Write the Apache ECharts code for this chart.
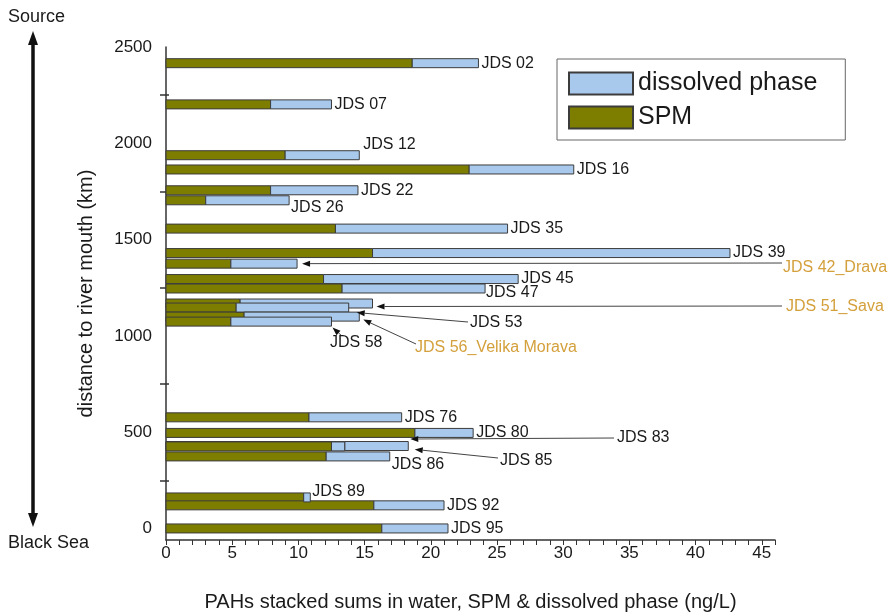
<!DOCTYPE html>
<html>
<head>
<meta charset="utf-8">
<title>PAHs along the Danube</title>
<script src="https://cdn.jsdelivr.net/npm/echarts@6/dist/echarts.min.js"></script>
<style>
  html, body { margin: 0; padding: 0; background: #ffffff; }
  #chart { width: 894px; height: 612px; }
</style>
</head>
<body>
<div id="chart"></div>
<script>
// Sampling stations, ordered from the source down to the Black Sea
const stations = [
  'JDS 02', 'JDS 07', 'JDS 12', 'JDS 16', 'JDS 22', 'JDS 26', 'JDS 35', 'JDS 39',
  'JDS 42_Drava', 'JDS 45', 'JDS 47', 'JDS 51_Sava', 'JDS 53', 'JDS 56_Velika Morava',
  'JDS 58', 'JDS 76', 'JDS 80', 'JDS 83', 'JDS 85', 'JDS 86', 'JDS 89', 'JDS 92', 'JDS 95'
];
// Distance to the river mouth (km)
const distanceKm = [
  2416, 2202, 1938, 1864, 1756, 1704, 1557, 1430,
  1375, 1295, 1246, 1168, 1147, 1100,
  1074, 577, 496, 428, 426, 374, 161, 120, 0
];
// PAHs bound to suspended particulate matter (ng/L)
const spm = [
  18.6, 7.9, 9.0, 22.9, 7.9, 3.0, 12.8, 15.6,
  4.9, 11.9, 13.3, 5.6, 5.3, 5.9,
  4.9, 10.8, 18.8, 13.5, 12.5, 12.1, 10.4, 15.7, 16.3
];
// PAHs in the dissolved phase (ng/L)
const dissolved = [
  5.0, 4.6, 5.6, 7.9, 6.6, 6.3, 13.0, 27.0,
  5.0, 14.7, 10.8, 10.0, 8.5, 8.7,
  7.6, 7.0, 4.4, 4.8, 1.0, 4.8, 0.5, 5.3, 5.0
];
const xTickLabels = [0, 5, 10, 15, 20, 25, 30, 35, 40, 45];
const yTickLabels = [0, 500, 1000, 1500, 2000, 2500];
const yMidTicks = [250, 750, 1250, 1750, 2250];

const FONT = '"Liberation Sans", Arial, Helvetica, sans-serif';
const TEXT = '#1a1a1a';
const TRIBUTARY = '#d4a03c';
const SPM_COLOR = '#7d7d00';
const DISS_COLOR = '#a8c8ec';
const EDGE = '#3c3c3c';
const BAR_H = 9;

// Station labels drawn next to the bar end (pixel nudges)
const labelNudge = {
  'JDS 12': [4, -11],
  'JDS 26': [2, 7],
  'JDS 47': [1, 4],
  'JDS 86': [2, 8],
  'JDS 89': [2, -6]
};
// Station labels placed away from the bars, with a leader arrow
const callouts = {
  'JDS 42_Drava':         { text: [783, 268], from: [782, 263], tip: [5, 0],  color: TRIBUTARY },
  'JDS 51_Sava':          { text: [786, 307], from: [782, 306], tip: [4, 3],  color: TRIBUTARY },
  'JDS 53':               { text: [470, 323], from: [468, 322], tip: [8, 5] },
  'JDS 56_Velika Morava': { text: [415, 348], from: [416, 344], tip: [4, 3],  color: TRIBUTARY },
  'JDS 58':               { text: [330, 343], from: [342, 336], tip: [1, 6] },
  'JDS 83':               { text: [617, 438], from: [614, 438], tip: [2, -7] },
  'JDS 85':               { text: [500, 461], from: [498, 458], tip: [70, 3] }
};

const spmData = stations.map((s, i) => [0, spm[i], distanceKm[i]]);
const dissData = stations.map((s, i) => [spm[i], +(spm[i] + dissolved[i]).toFixed(2), distanceKm[i]]);
const plainLabelData = [];
const calloutData = [];
stations.forEach((s, i) => {
  const row = [spm[i] + dissolved[i], distanceKm[i], i];
  (callouts[s] ? calloutData : plainLabelData).push(row);
});

function segment(color) {
  return function (params, api) {
    const a = api.coord([api.value(0), api.value(2)]);
    const b = api.coord([api.value(1), api.value(2)]);
    return {
      type: 'rect',
      shape: { x: a[0], y: a[1] - BAR_H / 2, width: b[0] - a[0], height: BAR_H },
      style: { fill: color, stroke: EDGE, lineWidth: 1 }
    };
  };
}

function plainLabel(params, api) {
  const name = stations[api.value(2)];
  const end = api.coord([api.value(0), api.value(1)]);
  const n = labelNudge[name] || [3, 0];
  return {
    type: 'text',
    x: end[0] + n[0],
    y: end[1] + n[1],
    style: {
      text: name, fill: TEXT, fontSize: 16, fontFamily: FONT,
      align: 'left', verticalAlign: 'middle'
    }
  };
}

function calloutLabel(params, api) {
  const name = stations[api.value(2)];
  const c = callouts[name];
  const end = api.coord([api.value(0), api.value(1)]);
  const tip = [end[0] + c.tip[0], end[1] + c.tip[1]];
  const dx = tip[0] - c.from[0], dy = tip[1] - c.from[1];
  const len = Math.hypot(dx, dy) || 1;
  const ux = dx / len, uy = dy / len;
  const hl = 8, hw = 3;
  const bx = tip[0] - ux * hl, by = tip[1] - uy * hl;
  return {
    type: 'group',
    children: [
      { type: 'line', shape: { x1: c.from[0], y1: c.from[1], x2: bx, y2: by },
        style: { stroke: '#444', lineWidth: 1 } },
      { type: 'polygon',
        shape: { points: [tip, [bx - uy * hw, by + ux * hw], [bx + uy * hw, by - ux * hw]] },
        style: { fill: '#111' } },
      { type: 'text', x: c.text[0], y: c.text[1],
        style: { text: name, fill: c.color || TEXT, fontSize: 16, fontFamily: FONT,
                 align: 'left', verticalAlign: 'middle' } }
    ]
  };
}

const chart = echarts.init(document.getElementById('chart'), null, { renderer: 'canvas' });

chart.setOption({
  animation: false,
  backgroundColor: '#ffffff',
  textStyle: { fontFamily: FONT, color: TEXT },
  grid: { left: 166, right: 119, top: 47, bottom: 72, containLabel: false, outerBoundsMode: 'none' },
  legend: {
    orient: 'vertical',
    left: 557, top: 59,
    padding: [12, 28, 10, 11],
    itemWidth: 64, itemHeight: 22, itemGap: 9,
    borderColor: '#666', borderWidth: 1,
    selectedMode: false,
    textStyle: { fontSize: 25, color: TEXT, fontFamily: FONT, lineHeight: 22 },
    data: [
      { name: 'dissolved phase', icon: 'rect' },
      { name: 'SPM', icon: 'rect' }
    ]
  },
  xAxis: {
    type: 'value', min: 0, max: 46, interval: 1,
    name: 'PAHs stacked sums in water, SPM & dissolved phase (ng/L)',
    nameLocation: 'middle', nameGap: 52,
    nameTextStyle: { fontSize: 20, color: TEXT, fontFamily: FONT },
    axisLine: { show: true, onZero: false, lineStyle: { color: '#333', width: 1.5 } },
    axisTick: { show: true, length: 5, lineStyle: { color: '#333', width: 1 } },
    axisLabel: { customValues: xTickLabels, fontSize: 17, color: TEXT, margin: 5 },
    splitLine: { show: false }
  },
  yAxis: [
    {
      type: 'value', min: -60, max: 2500, position: 'left',
      name: 'distance to river mouth (km)',
      nameLocation: 'middle', nameGap: 70,
      nameTextStyle: { fontSize: 20, color: TEXT, fontFamily: FONT },
      axisLine: { show: true, onZero: false, lineStyle: { color: '#333', width: 1.5 } },
      axisTick: { show: true, customValues: yMidTicks, length: 6, lineStyle: { color: '#333', width: 1.5 } },
      axisLabel: { customValues: yTickLabels, formatter: v => String(v), fontSize: 17, color: TEXT, margin: 14 },
      splitLine: { show: false }
    },
    {
      type: 'value', min: -60, max: 2500, position: 'left',
      axisLine: { show: false, onZero: false },
      axisTick: { show: true, inside: true, customValues: yMidTicks, length: 3, lineStyle: { color: '#333', width: 1.5 } },
      axisLabel: { show: false },
      splitLine: { show: false }
    }
  ],
  graphic: [
    { type: 'text', left: 8, top: 8,
      style: { text: 'Source', fontSize: 18, fontFamily: FONT, fill: TEXT } },
    { type: 'text', left: 8, top: 534,
      style: { text: 'Black Sea', fontSize: 18, fontFamily: FONT, fill: TEXT } },
    { type: 'line', shape: { x1: 33, y1: 42, x2: 33, y2: 516 },
      style: { stroke: '#111', lineWidth: 3.5 } },
    { type: 'polygon', shape: { points: [[33, 31], [28, 45], [38, 45]] }, style: { fill: '#111' } },
    { type: 'polygon', shape: { points: [[33, 527], [28, 513], [38, 513]] }, style: { fill: '#111' } }
  ],
  series: [
    {
      name: 'SPM', type: 'custom', renderItem: segment(SPM_COLOR),
      itemStyle: { color: SPM_COLOR, borderColor: EDGE, borderWidth: 1 },
      encode: { x: [0, 1], y: 2 }, data: spmData, z: 2
    },
    {
      name: 'dissolved phase', type: 'custom', renderItem: segment(DISS_COLOR),
      itemStyle: { color: DISS_COLOR, borderColor: EDGE, borderWidth: 1 },
      encode: { x: [0, 1], y: 2 }, data: dissData, z: 3
    },
    {
      name: 'station labels', type: 'custom', renderItem: plainLabel,
      encode: { x: 0, y: 1 }, data: plainLabelData, z: 4, silent: true
    },
    {
      name: 'tributary callouts', type: 'custom', renderItem: calloutLabel,
      encode: { x: 0, y: 1 }, data: calloutData, z: 5, silent: true
    }
  ]
});
</script>
</body>
</html>
